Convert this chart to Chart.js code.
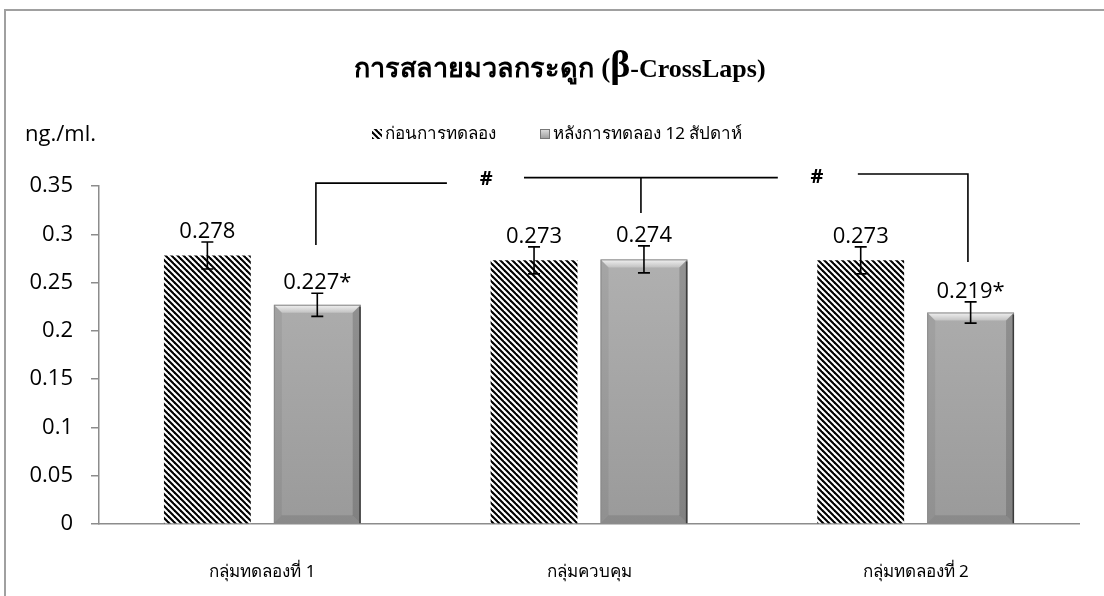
<!DOCTYPE html>
<html>
<head>
<meta charset="utf-8">
<script src="https://cdn.jsdelivr.net/npm/chart.js@4/dist/chart.umd.min.js"></script>
<style>
  body { margin: 0; background: #fff; }
  #frame { position: absolute; left: 4px; top: 9px; width: 1200px; height: 700px;
           border-left: 2px solid #a0a0a0; border-top: 2px solid #a0a0a0; }
  #wrap { position: absolute; left: 0; top: 0; width: 1104px; height: 596px; }
</style>
</head>
<body>
<div id="frame"></div>
<div id="wrap"><canvas id="chart" width="1104" height="596"></canvas></div>
<script>
// data
const categories = ['กลุ่มทดลองที่ 1', 'กลุ่มควบคุม', 'กลุ่มทดลองที่ 2'];
const seriesNames = ['ก่อนการทดลอง', 'หลังการทดลอง 12 สัปดาห์'];
const beforeValues = [0.278, 0.273, 0.273];
const afterValues = [0.227, 0.274, 0.219];
const beforeErrors = [0.014, 0.014, 0.014];
const afterErrors = [0.012, 0.014, 0.011];
const beforeLabels = ['0.278', '0.273', '0.273'];
const afterLabels = ['0.227*', '0.274', '0.219*'];
const yTicks = [0, 0.05, 0.1, 0.15, 0.2, 0.25, 0.3, 0.35];

// significance brackets, in category index / value units
const brackets = [
    [[0.164, 0.289], [0.164, 0.353], [0.565, 0.353]],
    [[0.801, 0.3587], [1.578, 0.3587]],
    [[1.159, 0.3587], [1.159, 0.322]],
    [[1.823, 0.3624], [2.160, 0.3624], [2.160, 0.2712]]
];
const hashMarks = [[0.685, 0.357], [1.698, 0.359]];

const thaiFont = 'Tahoma, "Noto Sans", "DejaVu Sans", sans-serif';
const numFont = '"Open Sans", "Liberation Sans", sans-serif';

// hatch pattern for the "before" bars
function makeHatch() {
    const t = document.createElement('canvas');
    t.width = 6; t.height = 6;
    const c = t.getContext('2d');
    c.fillStyle = '#fff';
    c.fillRect(0, 0, 6, 6);
    c.strokeStyle = '#000';
    c.lineWidth = 2.1;
    for (let k = -1; k <= 1; k++) {
        c.beginPath();
        c.moveTo(-1, k * 6 - 1);
        c.lineTo(7, k * 6 + 7);
        c.stroke();
    }
    return document.getElementById('chart').getContext('2d').createPattern(t, 'repeat');
}
const hatch = makeHatch();

function grayFill(context) {
    const chart = context.chart;
    const area = chart.chartArea;
    if (!area) return '#a8a8a8';
    const g = chart.ctx.createLinearGradient(0, area.top, 0, area.bottom);
    g.addColorStop(0, '#b6b6b6');
    g.addColorStop(1, '#9a9a9a');
    return g;
}

function bevel(ctx, left, top, right, bottom) {
    const b = 8;
    // top highlight
    let g = ctx.createLinearGradient(0, top, 0, top + b);
    g.addColorStop(0, '#f2f2f2');
    g.addColorStop(1, '#c2c2c2');
    ctx.fillStyle = g;
    ctx.beginPath();
    ctx.moveTo(left, top); ctx.lineTo(right, top);
    ctx.lineTo(right - b, top + b); ctx.lineTo(left + b, top + b);
    ctx.closePath(); ctx.fill();
    // right shade
    ctx.fillStyle = 'rgba(0,0,0,0.16)';
    ctx.beginPath();
    ctx.moveTo(right, top); ctx.lineTo(right, bottom);
    ctx.lineTo(right - b, bottom - b); ctx.lineTo(right - b, top + b);
    ctx.closePath(); ctx.fill();
    // left shade
    ctx.fillStyle = 'rgba(0,0,0,0.06)';
    ctx.beginPath();
    ctx.moveTo(left, top); ctx.lineTo(left + b, top + b);
    ctx.lineTo(left + b, bottom - b); ctx.lineTo(left, bottom);
    ctx.closePath(); ctx.fill();
    // bottom shade
    ctx.fillStyle = 'rgba(0,0,0,0.1)';
    ctx.beginPath();
    ctx.moveTo(left, bottom); ctx.lineTo(left + b, bottom - b);
    ctx.lineTo(right - b, bottom - b); ctx.lineTo(right, bottom);
    ctx.closePath(); ctx.fill();
    ctx.strokeStyle = '#8a8a8a';
    ctx.lineWidth = 1;
    ctx.strokeRect(left + 0.5, top + 0.5, right - left - 1, bottom - top - 1);
    ctx.strokeStyle = '#3c3c3c';
    ctx.lineWidth = 1.5;
    ctx.beginPath();
    ctx.moveTo(right - 0.75, top + 2); ctx.lineTo(right - 0.75, bottom);
    ctx.stroke();
}

const extras = {
    id: 'extras',
    afterDatasetsDraw(chart) {
        const ctx = chart.ctx;
        const x = chart.scales.x, y = chart.scales.y;
        ctx.save();

        // bevel on the gray bars
        chart.getDatasetMeta(1).data.forEach(el => {
            bevel(ctx, el.x - el.width / 2, el.y, el.x + el.width / 2, el.base);
        });

        // error bars and value labels
        const sets = [
            [beforeValues, beforeErrors, beforeLabels],
            [afterValues, afterErrors, afterLabels]
        ];
        sets.forEach((s, di) => {
            chart.getDatasetMeta(di).data.forEach((el, i) => {
                const top = y.getPixelForValue(s[0][i] + s[1][i]);
                const bot = y.getPixelForValue(s[0][i] - s[1][i]);
                ctx.strokeStyle = '#000';
                ctx.lineWidth = 1.6;
                ctx.beginPath();
                ctx.moveTo(el.x, top); ctx.lineTo(el.x, bot);
                ctx.moveTo(el.x - 6, top); ctx.lineTo(el.x + 6, top);
                ctx.moveTo(el.x - 6, bot); ctx.lineTo(el.x + 6, bot);
                ctx.stroke();
                ctx.fillStyle = '#000';
                ctx.font = '22px ' + numFont;
                ctx.textAlign = 'center';
                ctx.textBaseline = 'alphabetic';
                ctx.fillText(s[2][i], el.x, top - 4);
            });
        });

        // brackets and # marks
        const catW = x.getPixelForValue(1) - x.getPixelForValue(0);
        const px = v => x.getPixelForValue(0) + v * catW;
        ctx.strokeStyle = '#000';
        ctx.lineWidth = 1.6;
        brackets.forEach(line => {
            ctx.beginPath();
            line.forEach((p, k) => {
                const X = px(p[0]), Y = y.getPixelForValue(p[1]);
                if (k === 0) ctx.moveTo(X, Y); else ctx.lineTo(X, Y);
            });
            ctx.stroke();
        });
        ctx.font = 'bold 20px ' + numFont;
        ctx.textAlign = 'center';
        ctx.textBaseline = 'middle';
        hashMarks.forEach(h => ctx.fillText('#', px(h[0]), y.getPixelForValue(h[1])));
        ctx.restore();
    },
    afterDraw(chart) {
        const ctx = chart.ctx;
        ctx.save();
        ctx.fillStyle = '#000';
        ctx.textBaseline = 'alphabetic';

        // title with a large beta
        const parts = [
            ['การสลายมวลกระดูก (', 'bold 27px "Liberation Serif", ' + thaiFont],
            ['β', 'bold 38px "Liberation Serif", serif'],
            ['-CrossLaps)', 'bold 26px "Liberation Serif", serif']
        ];
        let total = 0;
        parts.forEach(p => { ctx.font = p[1]; total += ctx.measureText(p[0]).width; });
        let tx = 560 - total / 2;
        ctx.textAlign = 'left';
        parts.forEach(p => {
            ctx.font = p[1];
            ctx.fillText(p[0], tx, 77);
            tx += ctx.measureText(p[0]).width;
        });

        // unit label
        ctx.font = '22px ' + numFont;
        ctx.fillText('ng./ml.', 25, 141);

        // legend
        ctx.font = '17px ' + thaiFont;
        ctx.textBaseline = 'middle';
        const ly = 134;
        let lx = 372;
        ctx.fillStyle = hatch;
        ctx.fillRect(lx, ly - 5, 10, 10);
        ctx.fillStyle = '#000';
        ctx.fillText(seriesNames[0], lx + 13, ly);
        lx = 540;
        const g = ctx.createLinearGradient(0, ly - 5, 0, ly + 5);
        g.addColorStop(0, '#e0e0e0');
        g.addColorStop(1, '#9a9a9a');
        ctx.fillStyle = g;
        ctx.fillRect(lx, ly - 5, 10, 10);
        ctx.strokeStyle = '#777';
        ctx.lineWidth = 1;
        ctx.strokeRect(lx + 0.5, ly - 4.5, 9, 9);
        ctx.fillStyle = '#000';
        ctx.fillText(seriesNames[1], lx + 13, ly);
        ctx.restore();
    }
};

new Chart(document.getElementById('chart'), {
    type: 'bar',
    data: {
        labels: categories,
        datasets: [{
            label: seriesNames[0],
            data: beforeValues,
            backgroundColor: hatch,
            borderWidth: 0,
            categoryPercentage: 0.673,
            barPercentage: 0.79
        }, {
            label: seriesNames[1],
            data: afterValues,
            backgroundColor: grayFill,
            borderWidth: 0,
            categoryPercentage: 0.673,
            barPercentage: 0.79
        }]
    },
    options: {
        responsive: false,
        animation: false,
        devicePixelRatio: 1,
        layout: { padding: { left: 0, right: 25, top: 186, bottom: 0 } },
        plugins: {
            legend: { display: false },
            title: { display: false },
            tooltip: { enabled: false }
        },
        scales: {
            x: {
                grid: { display: false },
                border: { color: '#8c8c8c', width: 1.5 },
                ticks: { color: '#000', font: { family: thaiFont, size: 17 }, padding: 30 },
                afterFit: s => { s.height = 72; }
            },
            y: {
                min: 0,
                max: 0.35,
                afterBuildTicks: s => { s.ticks = yTicks.map(v => ({ value: v })); },
                grid: { drawOnChartArea: false, color: '#8c8c8c', tickLength: 8, lineWidth: 1.5 },
                border: { color: '#8c8c8c', width: 1.5 },
                ticks: {
                    color: '#000',
                    font: { family: numFont, size: 22 },
                    padding: 18,
                    callback: v => String(Math.round(v * 100) / 100)
                },
                afterFit: s => { s.width = 99; }
            }
        }
    },
    plugins: [extras]
});
</script>
</body>
</html>
